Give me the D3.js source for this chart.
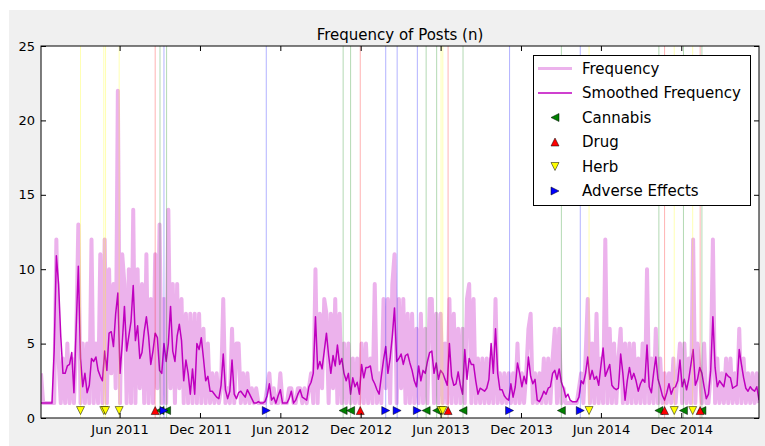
<!DOCTYPE html>
<html><head><meta charset="utf-8">
<script src="https://cdn.jsdelivr.net/npm/d3@7"></script>
<style>body{margin:0;background:#fff}svg{display:block}text{font-family:"DejaVu Sans",sans-serif}</style>
</head><body><svg id="c" width="765" height="446"></svg>
<script>
const startDate = "2010-12-04";
const stepDays = 5;
const frequency = [
3,1,1,1,1,1,1,12,4,1,
4,1,5,1,4,1,5,13,1,5,
1,5,1,12,1,5,1,11,1,12,
1,10,3,9,2,22,1,11,9,1,
10,1,14,1,10,2,9,1,11,1,
8,1,11,2,13,1,8,1,14,2,
9,1,9,2,8,1,7,1,7,1,
7,1,7,1,6,1,5,1,3,1,
3,1,2,8,1,2,1,6,1,5,
5,1,3,1,3,1,2,1,2,1,
1,1,1,2,3,1,2,1,1,3,
1,1,1,2,2,1,1,2,2,1,
2,1,2,3,1,10,1,7,2,8,
7,1,7,2,8,1,7,1,5,1,
5,1,4,1,4,1,5,1,5,1,
4,1,9,1,3,1,8,2,8,1,
9,11,1,8,2,8,1,7,1,7,
1,6,1,7,1,6,1,8,8,1,
7,1,7,1,5,1,8,1,7,1,
6,1,6,1,8,9,1,8,1,4,
1,4,1,4,1,4,1,8,1,3,
1,3,1,3,1,3,1,5,1,3,
1,3,6,7,1,3,1,3,1,4,
1,4,1,4,6,1,6,1,2,1,
1,1,1,1,1,2,3,1,4,8,
1,5,1,7,1,4,1,12,1,6,
1,5,1,4,6,1,5,1,5,1,
5,1,4,1,5,1,10,1,4,1,
6,1,4,1,3,1,3,1,4,1,
3,5,1,5,1,4,1,12,1,5,
3,1,5,1,1,3,12,1,4,1,
3,1,4,1,4,1,3,1,6,1,
4,1,3,1,3,1,3,1];
const smoothed = [
1,1,1,1,1,1,4.5,10.9,9.0,5.5,
3.0,3.0,3.5,3.6,4.4,1.7,6.0,10.2,4.0,2.1,
3.0,1.7,2.2,4.0,3.8,4.1,3.2,2.8,2.5,4.5,
3.2,5.7,5.8,4.8,7.0,8.4,3.0,5.0,7.5,4.5,
5.5,6.5,8.9,5.2,6.2,4.0,4.4,5.8,6.8,5.5,
3.6,4.5,5.7,5.4,3.2,3.0,5.0,3.8,5.0,7.5,
4.5,3.8,5.5,6.3,5.2,2.5,3.9,3.0,1.6,3.3,
1.6,5.0,4.6,5.4,4.0,2.5,2.8,1.8,1.8,1.6,
1.4,1.3,2.2,4.3,1.9,1.3,1.8,3.9,1.6,1.3,
1.7,1.8,1.6,1.4,1.9,1.6,1.3,1.0,1.0,1.1,
1.0,1.0,1.1,1.5,2.3,1.2,1.4,1.0,1.5,1.9,
1.0,1.0,1.0,1.3,1.8,1.0,1.2,1.6,1.9,1.4,
1.3,1.2,2.1,2.4,3.0,6.8,3.3,3.8,3.3,4.5,
5.7,4.2,3.0,4.2,3.5,4.9,3.6,4.0,3.0,2.5,
3.0,1.6,2.7,2.1,2.4,1.6,3.6,2.7,3.4,3.4,
3.5,2.6,2.3,1.9,1.6,2.8,3.9,4.8,3.0,4.0,
5.5,7.4,3.8,4.0,4.3,3.6,4.2,4.3,3.7,3.2,
2.5,2.1,3.5,2.5,3.2,3.0,3.8,4.4,4.5,3.0,
3.7,2.6,3.2,3.0,2.6,2.2,5.0,2.8,2.2,2.3,
3.1,2.2,1.6,4.6,2.6,4.0,3.6,3.6,2.5,1.6,
2.0,1.9,1.8,2.0,2.6,5.0,3.0,6.0,3.0,1.9,
1.9,1.5,1.3,1.2,2.3,1.4,2.1,3.7,3.0,2.1,
2.8,2.3,4.1,2.8,2.3,2.6,1.2,1.1,1.4,1.8,
1.6,2.0,2.1,3.0,3.2,2.6,3.3,2.4,2.0,1.4,
1.6,1.2,1.1,1.1,1.1,1.4,2.5,2.3,3.0,4.1,
2.6,3.2,2.6,2.8,2.2,3.5,4.7,2.8,3.2,3.6,
2.2,2.0,1.9,2.0,4.3,3.0,1.2,2.5,3.4,2.6,
3.0,2.5,1.8,2.3,2.6,2.4,4.9,2.1,1.7,3.0,
4.1,2.6,2.1,1.5,1.2,1.7,2.3,1.6,2.0,2.1,
2.5,3.9,2.1,2.6,1.9,2.6,3.6,4.6,2.2,2.6,
3.4,3.0,2.1,1.3,1.6,3.2,6.8,3.4,2.1,2.5,
2.3,2.1,3.0,2.8,2.7,2.0,2.1,2.2,4.6,3.6,
2.7,2.0,1.8,2.1,1.9,1.8,2.1,1.2];
const cannabisDates = ["2011-09-01","2011-09-16","2012-10-22","2012-11-08","2013-04-29","2013-05-23","2013-07-22","2014-03-03","2014-10-11","2014-12-06","2015-01-17"];
const drugDates = ["2011-08-21","2012-11-30","2013-06-18","2014-10-24","2015-01-13"];
const herbDates = ["2011-03-04","2011-04-26","2011-04-30","2011-05-31","2013-06-02","2013-06-06","2014-05-05","2014-11-15","2014-12-27"];
const adverseDates = ["2011-09-10","2012-04-30","2013-01-27","2013-02-22","2013-04-09","2013-11-05","2014-04-15"];
const xTickDates = ["2011-06-01","2011-12-01","2012-06-01","2012-12-01","2013-06-01","2013-12-01","2014-06-01","2014-12-01"];
const yTicks = [0,5,10,15,20,25];
const legendLabels = ["Frequency","Smoothed Frequency","Cannabis","Drug","Herb","Adverse Effects"];
const titleText = "Frequency of Posts (n)";

const parse = d3.utcParse("%Y-%m-%d");
const t0 = parse(startDate);
const dates = frequency.map((_, i) => d3.utcDay.offset(t0, i * stepDays));
const svg = d3.select("#c");
const L = 41, R = 759, T = 46, B = 418;
const x = d3.scaleUtc().domain([dates[0], dates[dates.length - 1]]).range([L, R]);
const y = d3.scaleLinear().domain([0, 25]).range([B, T]);

svg.append("rect").attr("x", 9).attr("y", 10).attr("width", 756).attr("height", 436).attr("fill", "#f0f0f0");
svg.append("rect").attr("x", L).attr("y", T).attr("width", R - L).attr("height", B - T).attr("fill", "#fff");
svg.append("defs").append("clipPath").attr("id", "clip").append("rect")
  .attr("x", L).attr("y", T).attr("width", R - L).attr("height", B - T);
const g = svg.append("g").attr("clip-path", "url(#clip)");

const line = (vals) => d3.line().x((d, i) => x(dates[i])).y(d => y(d))(vals);
g.append("path").attr("d", line(frequency)).attr("fill", "none")
  .attr("stroke", "#bf00bf").attr("stroke-opacity", 0.3).attr("stroke-width", 4).attr("stroke-linejoin", "round");
g.append("path").attr("d", line(smoothed)).attr("fill", "none")
  .attr("stroke", "#bf00bf").attr("stroke-width", 1.5).attr("stroke-linejoin", "round");

const groups = [
  {dates: cannabisDates, color: "#008000", shape: "left"},
  {dates: drugDates, color: "#ff0000", shape: "up"},
  {dates: herbDates, color: "#ffff00", shape: "down"},
  {dates: adverseDates, color: "#0000ff", shape: "right"}
];
groups.forEach(gr => {
  gr.dates.forEach(d => {
    const xx = x(parse(d));
    g.append("line").attr("x1", xx).attr("x2", xx).attr("y1", T).attr("y2", B)
      .attr("stroke", gr.color).attr("stroke-opacity", 0.3).attr("stroke-width", 1);
  });
});
const s = 8, h = s / 2;
const shapes = {
  left: `M${-h},0L${h},${-h}L${h},${h}Z`,
  right: `M${h},0L${-h},${-h}L${-h},${h}Z`,
  up: `M0,${-h}L${-h},${h}L${h},${h}Z`,
  down: `M0,${h}L${-h},${-h}L${h},${-h}Z`
};
groups.forEach(gr => {
  gr.dates.forEach(d => {
    svg.append("path").attr("d", shapes[gr.shape])
      .attr("transform", `translate(${x(parse(d))},${y(0.5)})`)
      .attr("fill", gr.color).attr("stroke", "#000").attr("stroke-width", 0.5);
  });
});

const fmt = d3.utcFormat("%b %Y");
const tickDates = xTickDates.map(parse);
const ax = (a) => a.tickSizeOuter(0);
const bx = svg.append("g").attr("transform", `translate(0,${B})`)
  .call(ax(d3.axisBottom(x).tickValues(tickDates).tickFormat(fmt).tickSizeInner(-5).tickPadding(7)));
const tx = svg.append("g").attr("transform", `translate(0,${T})`)
  .call(ax(d3.axisTop(x).tickValues(tickDates).tickFormat("").tickSizeInner(-5)));
const ly = svg.append("g").attr("transform", `translate(${L},0)`)
  .call(ax(d3.axisLeft(y).tickValues(yTicks).tickSizeInner(-5).tickPadding(6)));
const ry = svg.append("g").attr("transform", `translate(${R},0)`)
  .call(ax(d3.axisRight(y).tickValues(yTicks).tickFormat("").tickSizeInner(-5)));
[bx, tx, ly, ry].forEach(a => {
  a.select(".domain").remove();
  a.selectAll("line").attr("stroke", "#000").attr("stroke-width", 1);
  a.selectAll("text").attr("font-family", "DejaVu Sans").attr("font-size", 13).attr("fill", "#000");
});
svg.append("rect").attr("x", L).attr("y", T).attr("width", R - L).attr("height", B - T)
  .attr("fill", "none").attr("stroke", "#000").attr("stroke-width", 1);

svg.append("text").attr("x", (L + R) / 2).attr("y", 40).attr("text-anchor", "middle")
  .attr("font-size", 15).attr("fill", "#000").text(titleText);

// legend
const lg = svg.append("g");
lg.append("rect").attr("x", 533.5).attr("y", 55.5).attr("width", 217).attr("height", 150)
  .attr("fill", "#fff").attr("stroke", "#000").attr("stroke-width", 1);
const rowY = i => 68.5 + i * 24.5;
lg.append("line").attr("x1", 538).attr("x2", 572).attr("y1", rowY(0)).attr("y2", rowY(0))
  .attr("stroke", "#bf00bf").attr("stroke-opacity", 0.3).attr("stroke-width", 3);
lg.append("line").attr("x1", 538).attr("x2", 572).attr("y1", rowY(1)).attr("y2", rowY(1))
  .attr("stroke", "#bf00bf").attr("stroke-width", 1.5);
groups.forEach((gr, k) => {
  lg.append("path").attr("d", shapes[gr.shape]).attr("transform", `translate(555,${rowY(k + 2)})`)
    .attr("fill", gr.color).attr("stroke", "#000").attr("stroke-width", 0.5);
});
legendLabels.forEach((t, i) => {
  lg.append("text").attr("x", 582).attr("y", rowY(i)).attr("dy", "0.36em")
    .attr("font-size", 15).attr("fill", "#000").text(t);
});
</script></body></html>
